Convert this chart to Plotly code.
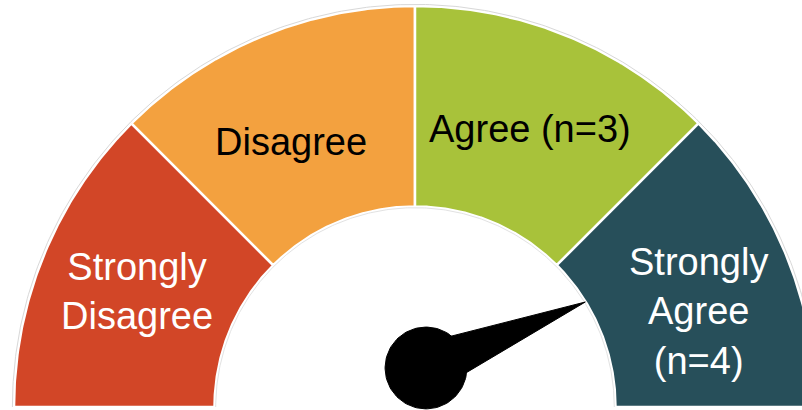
import numpy as np
import plotly.graph_objects as go

# ---- data ----
categories = ["Strongly Disagree", "Disagree", "Agree", "Strongly Agree"]
display_labels = ["Strongly<br>Disagree", "Disagree", "Agree (n=3)", "Strongly<br>Agree<br>(n=4)"]
segment_sizes = [1, 1, 1, 1]
needle_value = 3.5  # position on the 0..4 gauge scale

# ---- style / layout ----
colors = ["#D24627", "#F3A13F", "#A8C23A", "#274F5A"]
text_colors = ["white", "black", "black", "white"]
label_angle_offsets = [0, 2.5, 0, -3.9]
label_radii = [0.75, 0.73, 0.75, 0.745]
R_OUT, R_IN = 1.0, 0.5
W, H = 802, 410
PX = 401.0               # pixels per unit
CX, CY = 415, 407        # pixel position of gauge centre
pivot = (0.0274, 0.0973)  # needle hub (units)
hub_r = 0.102
needle_len = 0.43
needle_half_w = 0.062

fig = go.Figure()
total = sum(segment_sizes)
bounds = np.concatenate([[0], np.cumsum(segment_sizes)])

def val_to_angle(v):
    return np.pi * (1 - v / total)

for i, cat in enumerate(categories):
    a0, a1 = val_to_angle(bounds[i]), val_to_angle(bounds[i + 1])
    t = np.linspace(a0, a1, 120)
    xs = np.concatenate([R_OUT * np.cos(t), R_IN * np.cos(t[::-1]), [R_OUT * np.cos(t[0])]])
    ys = np.concatenate([R_OUT * np.sin(t), R_IN * np.sin(t[::-1]), [R_OUT * np.sin(t[0])]])
    fig.add_trace(go.Scatter(x=xs, y=ys, fill="toself", fillcolor=colors[i],
                             mode="lines", line=dict(color="white", width=2.5),
                             hoverinfo="skip", showlegend=False, name=cat))

# faint outer outline
t = np.linspace(0, np.pi, 300)
fig.add_trace(go.Scatter(x=1.004 * np.cos(t), y=1.004 * np.sin(t), mode="lines",
                         line=dict(color="#d8d8d8", width=1), hoverinfo="skip", showlegend=False))
fig.add_trace(go.Scatter(x=0.497 * np.cos(t), y=0.497 * np.sin(t), mode="lines",
                         line=dict(color="#e2e2e2", width=1), hoverinfo="skip", showlegend=False))

# labels
for i, lab in enumerate(display_labels):
    mid = (val_to_angle(bounds[i]) + val_to_angle(bounds[i + 1])) / 2 + np.radians(label_angle_offsets[i])
    fig.add_annotation(x=label_radii[i] * np.cos(mid), y=label_radii[i] * np.sin(mid),
                       text=lab, showarrow=False,
                       font=dict(family="Liberation Sans, Arial", size=38, color=text_colors[i]))

# needle
ang = val_to_angle(needle_value)
px, py = pivot
tip = (px + needle_len * np.cos(ang), py + needle_len * np.sin(ang))
perp = ang + np.pi / 2
b1 = (px + needle_half_w * np.cos(perp), py + needle_half_w * np.sin(perp))
b2 = (px - needle_half_w * np.cos(perp), py - needle_half_w * np.sin(perp))
fig.add_trace(go.Scatter(x=[b1[0], tip[0], b2[0], b1[0]], y=[b1[1], tip[1], b2[1], b1[1]],
                         fill="toself", fillcolor="black", mode="lines",
                         line=dict(color="black", width=1), hoverinfo="skip", showlegend=False))
tc = np.linspace(0, 2 * np.pi, 120)
fig.add_trace(go.Scatter(x=px + hub_r * np.cos(tc), y=py + hub_r * np.sin(tc),
                         fill="toself", fillcolor="black", mode="lines",
                         line=dict(color="black", width=1), hoverinfo="skip", showlegend=False))

fig.update_layout(
    width=W, height=H, margin=dict(l=0, r=0, t=0, b=0),
    paper_bgcolor="white", plot_bgcolor="white",
    xaxis=dict(range=[-CX / PX, (W - CX) / PX], visible=False, fixedrange=True),
    yaxis=dict(range=[-(H - CY) / PX, CY / PX], visible=False, fixedrange=True),
)
fig.write_html("out.html")
